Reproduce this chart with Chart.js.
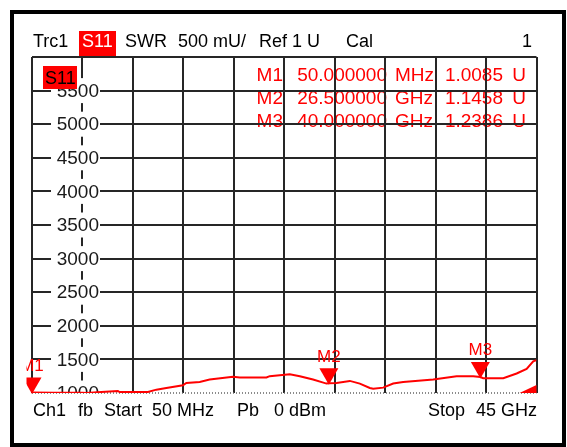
<!DOCTYPE html>
<html>
<head>
<meta charset="utf-8">
<script src="https://cdn.jsdelivr.net/npm/chart.js@4.4.1/dist/chart.umd.min.js"></script>
<style>
  html, body { margin: 0; padding: 0; background: #fff; }
  #wrap { width: 567px; height: 447px; }
</style>
</head>
<body>
<div id="wrap"><canvas id="swr-chart" width="567" height="447"></canvas></div>
<script>
// trace (S11 as SWR, 50 MHz .. 45 GHz)
const freqGHz = [0.05, 2.0, 4.58, 4.88, 6.22, 7.70, 7.85, 10.38, 11.13, 12.02, 13.50, 13.80,
  14.99, 15.88, 17.96, 18.56, 20.94, 21.23, 23.02, 23.91, 25.09, 26.29, 26.5, 27.18, 28.37,
  29.26, 30.15, 30.45, 31.34, 32.23, 33.12, 35.80, 37.88, 39.36, 40.0, 40.25, 42.04, 43.23,
  44.12, 44.71, 45.0];
const swrU = [1.0085, 1.004, 1.003, 1.0, 1.015, 1.03, 1.015, 1.015, 1.05, 1.075, 1.115, 1.15,
  1.165, 1.20, 1.24, 1.23, 1.23, 1.25, 1.28, 1.25, 1.20, 1.14, 1.1458, 1.15, 1.18,
  1.14, 1.075, 1.065, 1.08, 1.14, 1.165, 1.20, 1.25, 1.25, 1.2386, 1.22, 1.22, 1.29,
  1.36, 1.47, 1.49];

// 10 horizontal divisions between start and stop
const gridFreqs = [0.05, 4.545, 9.04, 13.535, 18.03, 22.525, 27.02, 31.515, 36.01, 40.505, 45.0];

const markerNames = ['M1', 'M2', 'M3'];
const markerFreqs = [0.05, 26.5, 40.0];
const markerValues = [1.0085, 1.1458, 1.2386];
const markerFreqText = ['50.000000', '26.500000', '40.000000'];
const markerUnitText = ['MHz', 'GHz', 'GHz'];

const FONT = '"Liberation Sans", Arial, sans-serif';
const RED = '#ff0000';

function txt(ctx, s, x, y, align, size, color)
{
  ctx.font = size + 'px ' + FONT;
  ctx.textAlign = align;
  ctx.textBaseline = 'alphabetic';
  ctx.fillStyle = color;
  ctx.fillText(s, x, y);
}

const vnaScreen = {
  id: 'vnaScreen',
  beforeDraw(chart)
  {
    const ctx = chart.ctx;
    ctx.save();
    ctx.fillStyle = '#fff';
    ctx.fillRect(0, 0, chart.width, chart.height);
    // outer frame
    ctx.strokeStyle = '#000';
    ctx.lineWidth = 4;
    ctx.strokeRect(12, 12, 552, 433);

    // header line
    txt(ctx, 'Trc1', 33, 47, 'left', 18, '#000');
    ctx.fillStyle = RED;
    ctx.fillRect(79, 31, 37, 26);
    txt(ctx, 'S11', 82, 47, 'left', 18, '#fff');
    txt(ctx, 'SWR', 125, 47, 'left', 18, '#000');
    txt(ctx, '500 mU/', 178, 47, 'left', 18, '#000');
    txt(ctx, 'Ref 1 U', 259, 47, 'left', 18, '#000');
    txt(ctx, 'Cal', 346, 47, 'left', 18, '#000');
    txt(ctx, '1', 532, 47, 'right', 18, '#000');

    // footer line
    txt(ctx, 'Ch1', 33, 416, 'left', 18, '#000');
    txt(ctx, 'fb', 78, 416, 'left', 18, '#000');
    txt(ctx, 'Start', 104, 416, 'left', 18, '#000');
    txt(ctx, '50 MHz', 152, 416, 'left', 18, '#000');
    txt(ctx, 'Pb', 237, 416, 'left', 18, '#000');
    txt(ctx, '0 dBm', 274, 416, 'left', 18, '#000');
    txt(ctx, 'Stop', 428, 416, 'left', 18, '#000');
    txt(ctx, '45 GHz', 537, 416, 'right', 18, '#000');

    // marker table, sits under the grid
    for (let i = 0; i < markerNames.length; i++)
    {
      const y = 80.7 + i * 23.3;
      txt(ctx, markerNames[i], 283, y, 'right', 19, RED);
      txt(ctx, markerFreqText[i], 387, y, 'right', 19, RED);
      txt(ctx, markerUnitText[i], 395, y, 'left', 19, RED);
      txt(ctx, markerValues[i].toFixed(4), 503, y, 'right', 19, RED);
      txt(ctx, 'U', 526, y, 'right', 19, RED);
    }
    ctx.restore();
  },
  beforeDatasetsDraw(chart)
  {
    const ctx = chart.ctx;
    const a = chart.chartArea;
    const ys = chart.scales.y;
    ctx.save();
    // dotted bottom edge
    ctx.strokeStyle = '#666';
    ctx.lineWidth = 1.5;
    ctx.setLineDash([1, 2]);
    ctx.beginPath();
    ctx.moveTo(a.left, a.bottom);
    ctx.lineTo(a.right, a.bottom);
    ctx.stroke();
    ctx.setLineDash([]);

    // value labels inside the diagram, clipped to it
    ctx.beginPath();
    ctx.rect(a.left, a.top, a.right - a.left, a.bottom - a.top);
    ctx.clip();
    ys.ticks.forEach((t) =>
    {
      if (t.value >= 6) return;
      const y = ys.getPixelForValue(t.value);
      ctx.fillStyle = '#fff';
      ctx.fillRect(51, y - 12.5, 49, 25);
      ctx.font = '19px ' + FONT;
      ctx.textAlign = 'right';
      ctx.textBaseline = 'middle';
      ctx.fillStyle = '#1a1a1a';
      ctx.fillText(t.label, 99, y + 1);
    });
    ctx.restore();

    // S11 tag
    ctx.save();
    ctx.fillStyle = RED;
    ctx.fillRect(43, 66, 34, 23);
    txt(ctx, 'S11', 45, 84, 'left', 18, '#000');
    ctx.restore();
  },
  afterDatasetsDraw(chart)
  {
    const ctx = chart.ctx;
    const a = chart.chartArea;
    const xs = chart.scales.x;
    const ys = chart.scales.y;
    ctx.save();
    ctx.beginPath();
    ctx.rect(26.5, a.top, a.right + 4 - 26.5, a.bottom - a.top + 1);
    ctx.clip();
    for (let i = 0; i < markerNames.length; i++)
    {
      const x = xs.getPixelForValue(markerFreqs[i]);
      const tip = ys.getPixelForValue(markerValues[i]) + 1.5;
      ctx.fillStyle = RED;
      ctx.beginPath();
      ctx.moveTo(x - 9.5, tip - 16.5);
      ctx.lineTo(x + 9.5, tip - 16.5);
      ctx.lineTo(x, tip);
      ctx.closePath();
      ctx.fill();
      txt(ctx, markerNames[i], x, tip - 23, 'center', 17, RED);
    }
    ctx.restore();

    // out-of-range wedge at the lower right corner
    ctx.save();
    ctx.fillStyle = RED;
    ctx.beginPath();
    ctx.moveTo(a.right - 17, a.bottom);
    ctx.lineTo(a.right, a.bottom);
    ctx.lineTo(a.right, a.bottom - 8);
    ctx.closePath();
    ctx.fill();
    ctx.restore();
  }
};

const ctx = document.getElementById('swr-chart').getContext('2d');
const swrChart = new Chart(ctx,
{
  type: 'line',
  data:
  {
    datasets: [
    {
      label: 'S11 SWR',
      data: freqGHz.map((f, i) => ({ x: f, y: swrU[i] })),
      borderColor: RED,
      borderWidth: 2,
      pointRadius: 0,
      tension: 0,
      fill: false,
    }, ],
  },
  options:
  {
    responsive: false,
    animation: false,
    devicePixelRatio: 1,
    layout: { padding: { left: 32, right: 30.5, top: 57, bottom: 54 } },
    plugins: { legend: { display: false }, tooltip: { enabled: false } },
    scales:
    {
      x:
      {
        type: 'linear',
        min: 0.05,
        max: 45,
        afterBuildTicks: (scale) => { scale.ticks = gridFreqs.map((v) => ({ value: v })); },
        ticks: { display: false },
        grid: { color: '#262626', lineWidth: 2, drawTicks: false },
        border: { display: false },
      },
      y:
      {
        type: 'linear',
        min: 1,
        max: 6,
        ticks: { display: false, stepSize: 0.5, callback: (v) => String(Math.round(v * 1000)) },
        grid:
        {
          color: (c) => (c.tick && c.tick.value === 1 ? 'rgba(0,0,0,0)' : '#262626'),
          lineWidth: 2,
          drawTicks: false,
        },
        border: { display: false },
      },
    },
  },
  plugins: [vnaScreen],
});
</script>
</body>
</html>
